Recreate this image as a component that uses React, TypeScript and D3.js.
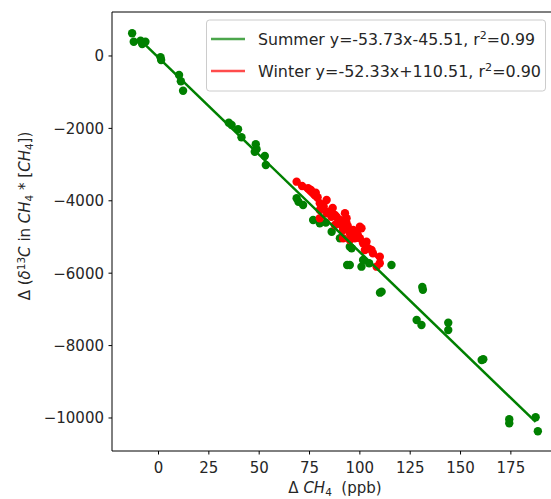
import React from "react";
import * as d3 from "d3";

const summerX = [-13.1, -12.3, -8.9, -8.1, -6.5, 1.0, 1.3, 10.2, 11.1, 12.2, 34.9, 36.3, 39.5, 41.2, 48.3, 48.7, 47.8, 52.8, 53.3, 68.6, 69.5, 71.8, 76.8, 80.1, 83.1, 86.0, 90.1, 95.0, 95.9, 93.7, 100.8, 101.6, 104.6, 115.7, 110.0, 110.8, 95.0, 128.2, 130.6, 131.0, 131.3, 143.9, 143.9, 160.5, 161.3, 174.2, 174.2, 187.3, 188.4];
const summerY = [627, 395, 423, 331, 395, -36, -110, -525, -700, -960, -1842, -1906, -2025, -2246, -2439, -2577, -2644, -2762, -3011, -3931, -4025, -4116, -4530, -4622, -4604, -4854, -5036, -5268, -5312, -5773, -5820, -5635, -5727, -5773, -6538, -6510, -5773, -7293, -7431, -6380, -6460, -7367, -7569, -8398, -8379, -10036, -10146, -9981, -10368];

const winterX = [68.6, 71.3, 74.3, 75.7, 78.1, 77.6, 80.1, 83.5, 80.1, 84.3, 83.5, 85.9, 87.6, 80.1, 90.1, 92.6, 93.4, 89.2, 93.4, 87.6, 91.7, 96.7, 100.0, 100.8, 91.7, 95.0, 97.5, 91.7, 95.0, 100.0, 101.6, 103.3, 104.1, 102.5, 105.8, 109.9, 109.9, 108.3, 82.0, 86.5, 88.5, 94.0, 98.5, 90.5, 79.0, 96.0, 99.0, 106.5];
const winterY = [-3472, -3591, -3655, -3702, -3776, -3840, -4069, -3978, -4254, -4301, -4345, -4439, -4392, -4483, -4530, -4345, -4483, -4577, -4622, -4669, -4760, -4807, -4715, -4760, -4807, -4898, -5036, -5036, -5083, -5036, -5174, -5130, -5312, -5359, -5359, -5544, -5727, -5820, -4150, -4200, -4450, -4700, -4900, -4650, -3900, -4950, -4950, -5450];

const summerLineX = [-9, 187.3];
const winterLineX = [68.6, 110];
const summerFit = { slope: -53.73, intercept: -45.51 };
const winterFit = { slope: -52.33, intercept: 110.51 };

const xTicks = [0, 25, 50, 75, 100, 125, 150, 175];
const yTicks = [0, -2000, -4000, -6000, -8000, -10000];

const W = 551;
const H = 499;
const left = 112, right = 560, top = 12, bottom = 451;

export default function App() {
  const x = d3.scaleLinear().domain([-23.1, 199.4]).range([left, right]);
  const y = d3.scaleLinear().domain([-10912, 1215]).range([bottom, top]);
  const sLine = d3.line<number>().x((d) => x(d)).y((d) => y(summerFit.slope * d + summerFit.intercept));
  const wLine = d3.line<number>().x((d) => x(d)).y((d) => y(winterFit.slope * d + winterFit.intercept));
  const font = "DejaVu Sans, sans-serif";
  const fs = 15;
  const sub = 10.5;
  const fmt = (v: number) => (v < 0 ? "\u2212" + Math.abs(v) : String(v));
  return (
    <div style={{ position: "fixed", left: 0, top: 0, width: W, height: H, background: "white" }}>
      <svg width={W} height={H} style={{ display: "block" }} fontFamily={font}>
        <rect width={W} height={H} fill="white" />
        {summerX.map((v, i) => (
          <circle key={"s" + i} cx={x(v)} cy={y(summerY[i])} r={4.2} fill="#008000" />
        ))}
        {winterX.map((v, i) => (
          <circle key={"w" + i} cx={x(v)} cy={y(winterY[i])} r={4.2} fill="#ff0000" />
        ))}
        <path d={wLine(winterLineX) || ""} stroke="#ff0000" strokeWidth={2.5} fill="none" />
        <path d={sLine(summerLineX) || ""} stroke="#008000" strokeWidth={2.5} fill="none" />
        <line x1={left} x2={left} y1={top} y2={bottom} stroke="#000" strokeWidth={1} />
        <line x1={left} x2={right} y1={bottom} y2={bottom} stroke="#000" strokeWidth={1} />
        <line x1={left} x2={right} y1={top} y2={top} stroke="#000" strokeWidth={1} />
        <line x1={right} x2={right} y1={top} y2={bottom} stroke="#000" strokeWidth={1} />
        {xTicks.map((t) => (
          <g key={"xt" + t}>
            <line x1={x(t)} x2={x(t)} y1={bottom} y2={bottom + 3.5} stroke="#000" />
            <text x={x(t)} y={bottom + 21.5} textAnchor="middle" fontSize={fs} fill="#262626">{fmt(t)}</text>
          </g>
        ))}
        {yTicks.map((t) => (
          <g key={"yt" + t}>
            <line x1={left - 3.5} x2={left} y1={y(t)} y2={y(t)} stroke="#000" />
            <text x={left - 8} y={y(t) + 5.5} textAnchor="end" fontSize={fs} fill="#262626">{fmt(t)}</text>
          </g>
        ))}
        <text x={335} y={493} textAnchor="middle" fontSize={fs} fill="#262626">
          <tspan>Δ </tspan>
          <tspan fontStyle="italic">CH</tspan>
          <tspan fontSize={sub} dy={3}>4</tspan>
          <tspan dy={-3}>{"\u00a0\u00a0(ppb)"}</tspan>
        </text>
        <text transform={`translate(30,216) rotate(-90)`} textAnchor="middle" fontSize={fs} fill="#262626">
          <tspan>Δ (</tspan>
          <tspan fontStyle="italic">δ</tspan>
          <tspan fontSize={sub} dy={-5}>13</tspan>
          <tspan fontStyle="italic" dy={5}>C</tspan>
          <tspan> in </tspan>
          <tspan fontStyle="italic">CH</tspan>
          <tspan fontSize={sub} dy={3}>4</tspan>
          <tspan dy={-3}> * [</tspan>
          <tspan fontStyle="italic">CH</tspan>
          <tspan fontSize={sub} dy={3}>4</tspan>
          <tspan dy={-3}>])</tspan>
        </text>
        <rect x={206.5} y={20} width={339} height={71} rx={3} fill="white" fillOpacity={0.8} stroke="#cccccc" />
        <line x1={211} x2={245} y1={39} y2={39} stroke="#008000" strokeOpacity={0.7} strokeWidth={2.5} />
        <line x1={211} x2={245} y1={71} y2={71} stroke="#ff0000" strokeOpacity={0.7} strokeWidth={2.5} />
        <text x={258} y={44.5} fontSize={fs} fill="#262626" textLength={277} lengthAdjust="spacingAndGlyphs">
          <tspan>Summer y=-53.73x-45.51, r</tspan>
          <tspan fontSize={sub} dy={-6}>2</tspan>
          <tspan dy={6}>=0.99</tspan>
        </text>
        <text x={258} y={76.5} fontSize={fs} fill="#262626" textLength={283} lengthAdjust="spacingAndGlyphs">
          <tspan>Winter y=-52.33x+110.51, r</tspan>
          <tspan fontSize={sub} dy={-6}>2</tspan>
          <tspan dy={6}>=0.90</tspan>
        </text>
      </svg>
    </div>
  );
}
